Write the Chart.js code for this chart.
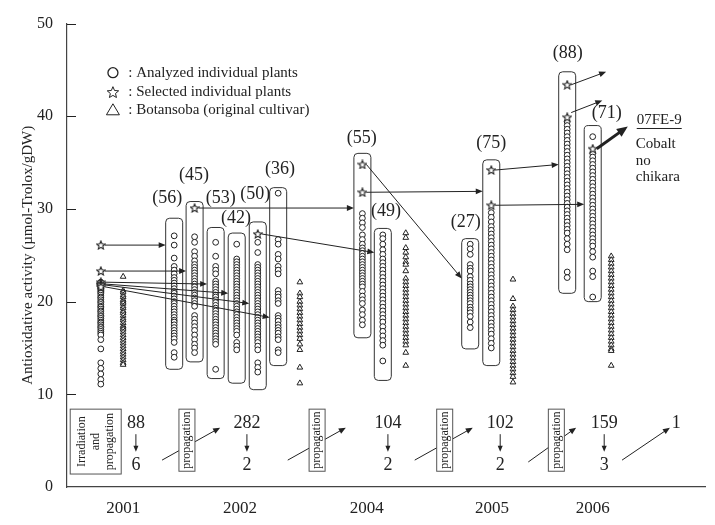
<!DOCTYPE html>
<html>
<head>
<meta charset="utf-8">
<script src="https://cdn.jsdelivr.net/npm/chart.js@4.4.1/dist/chart.umd.min.js"></script>
<style>
  body { margin: 0; background: #fff; }
  canvas { display: block; }
</style>
</head>
<body>
<canvas id="myChart" width="715" height="525"></canvas>
<script>
const years = ["2001", "2002", "2004", "2005", "2006"];
const yearPos = [8.8, 27.1, 47.0, 66.6, 82.4];

// plant groups (one column each), x position on a 0-100 axis
const groupLabels = ["", "(56)", "(45)", "(53)", "(42)", "(50)", "(36)", "(55)", "(49)", "(27)", "(75)", "(88)", "(71)"];
const groupX = [5.3, 16.8, 20.0, 23.3, 26.6, 29.9, 33.1, 46.3, 49.5, 63.2, 66.5, 78.4, 82.4];

const analyzed = [
  [22.1, 22.0, 21.8, 21.7, 21.5, 21.4, 21.2, 21.0, 20.9, 20.7, 20.5, 20.4, 20.2, 20.0, 19.9, 19.7, 19.5, 19.4, 19.2, 19.0, 18.9, 18.7, 18.5, 18.4, 18.2, 18.0, 17.8, 17.7, 17.5, 17.3, 17.2, 17.0, 16.8, 16.6, 16.4, 15.9, 14.9, 13.4, 12.8, 12.2, 11.6, 11.1],
  [27.1, 26.1, 24.7, 23.8, 23.4, 23.0, 22.6, 22.3, 22.0, 21.7, 21.4, 21.1, 20.9, 20.6, 20.3, 20.0, 19.8, 19.5, 19.2, 18.9, 18.6, 18.3, 18.0, 17.8, 17.5, 17.2, 16.9, 16.6, 16.3, 16.0, 15.6, 14.5, 14.0],
  [27.0, 26.4, 25.4, 24.9, 24.4, 24.0, 23.7, 23.4, 23.1, 22.8, 22.5, 22.2, 21.9, 21.6, 21.3, 21.0, 20.7, 20.4, 20.1, 19.8, 19.5, 18.5, 18.1, 17.7, 17.3, 16.9, 16.4, 15.9, 15.4, 15.0, 14.5],
  [26.4, 24.9, 23.8, 23.4, 23.0, 22.2, 21.9, 21.6, 21.3, 21.0, 20.7, 20.5, 20.2, 19.9, 19.6, 19.3, 19.0, 18.7, 18.4, 18.1, 17.8, 17.5, 17.2, 16.9, 16.6, 16.3, 16.0, 15.7, 15.4, 12.7],
  [26.2, 24.6, 24.3, 24.0, 23.7, 23.4, 23.1, 22.8, 22.5, 22.2, 21.9, 21.6, 21.3, 21.0, 20.7, 20.4, 20.1, 19.8, 19.5, 19.2, 18.9, 18.6, 18.3, 18.0, 17.7, 17.4, 17.1, 16.8, 16.4, 15.6, 15.2, 14.8],
  [26.4, 25.3, 24.0, 23.7, 23.4, 23.1, 22.8, 22.5, 22.2, 21.9, 21.6, 21.3, 21.0, 20.7, 20.4, 20.1, 19.8, 19.5, 19.2, 18.9, 18.6, 18.3, 18.0, 17.7, 17.4, 17.1, 16.8, 16.5, 16.2, 15.9, 15.6, 15.2, 14.8, 13.4, 12.9, 12.4],
  [31.7, 26.7, 26.2, 25.1, 24.6, 23.8, 23.4, 23.0, 21.2, 20.8, 20.5, 20.1, 19.8, 18.5, 18.2, 17.9, 17.5, 17.2, 16.9, 16.6, 16.2, 15.9, 14.8, 14.5],
  [29.5, 29.0, 28.5, 28.0, 27.2, 26.7, 26.2, 25.8, 25.5, 25.2, 24.9, 24.6, 24.3, 24.0, 23.7, 23.4, 23.1, 22.8, 22.5, 22.2, 21.9, 21.6, 21.1, 20.6, 20.2, 19.8, 19.1, 18.6, 18.0, 17.5],
  [27.2, 26.8, 26.2, 25.6, 25.1, 24.6, 24.2, 23.8, 23.4, 23.0, 22.6, 22.2, 21.8, 21.4, 21.0, 20.6, 20.2, 19.8, 19.4, 19.0, 18.6, 18.2, 17.8, 17.3, 16.8, 16.3, 15.8, 15.3, 13.6],
  [26.2, 25.7, 25.1, 24.0, 23.6, 23.3, 22.7, 22.3, 21.9, 21.6, 21.3, 21.0, 20.7, 20.4, 20.1, 19.8, 19.4, 19.1, 18.8, 18.4, 17.8, 17.2],
  [29.6, 29.1, 28.6, 28.1, 27.7, 27.3, 26.9, 26.5, 26.1, 25.7, 25.3, 24.9, 24.5, 24.1, 23.7, 23.3, 22.9, 22.5, 22.1, 21.7, 21.3, 20.9, 20.5, 20.1, 19.7, 19.3, 18.9, 18.5, 18.1, 17.7, 17.3, 16.9, 16.5, 16.0, 15.5, 15.0],
  [39.4, 39.0, 38.6, 38.2, 37.8, 37.4, 37.0, 36.6, 36.2, 35.8, 35.4, 35.0, 34.6, 34.2, 33.8, 33.4, 33.0, 32.6, 32.2, 31.8, 31.4, 31.0, 30.6, 30.2, 29.8, 29.4, 29.0, 28.6, 28.2, 27.8, 27.4, 26.8, 26.2, 25.6, 23.2, 22.6],
  [37.8, 36.0, 35.6, 35.2, 34.8, 34.4, 34.0, 33.6, 33.2, 32.8, 32.4, 32.0, 31.6, 31.2, 30.8, 30.4, 30.0, 29.6, 29.2, 28.8, 28.4, 28.0, 27.6, 27.2, 26.8, 26.4, 26.0, 25.4, 24.8, 23.3, 22.7, 20.5]
];

const selected = [
  [26.1, 23.3, 22.1, 21.9, 21.8, 21.6],
  [], [30.1], [], [], [27.3], [],
  [34.8, 31.8], [], [], [34.2, 30.4],
  [43.4, 39.9], [36.5]
];

// framed groups (value range of each rounded box)
const boxTop = [null, 29.0, 30.8, 28.0, 27.4, 28.6, 32.3, 36.0, 27.9, 26.8, 35.3, 44.8, 39.0];
const boxBottom = [null, 12.7, 13.5, 11.7, 11.2, 10.5, 13.1, 16.1, 11.5, 14.9, 13.1, 20.9, 20.0];

// Botansoba (original cultivar)
const origX = [8.8, 36.5, 53.1, 69.9, 85.3];
const botansoba = [
  [22.7, 21.2, 21.0, 20.7, 20.5, 20.2, 20.0, 19.8, 19.5, 19.3, 19.0, 18.8, 18.5, 18.2, 18.0, 17.7, 17.4, 17.2, 17.0, 16.7, 16.4, 16.1, 15.8, 15.5, 15.2, 14.9, 14.6, 14.3, 14.0, 13.7, 13.4, 13.2],
  [22.1, 20.9, 20.5, 20.0, 19.6, 19.2, 18.8, 18.4, 18.0, 17.6, 17.2, 16.8, 16.4, 16.0, 15.4, 14.8, 12.9, 11.2],
  [27.4, 26.9, 25.8, 25.3, 24.8, 24.3, 24.0, 23.3, 22.5, 22.1, 21.7, 21.3, 20.9, 20.5, 20.1, 19.7, 19.3, 18.9, 18.5, 18.1, 17.7, 17.3, 16.9, 16.5, 16.1, 15.7, 15.3, 14.5, 13.1],
  [22.4, 20.3, 19.5, 19.1, 18.7, 18.3, 17.9, 17.5, 17.1, 16.7, 16.3, 15.9, 15.5, 15.1, 14.7, 14.3, 13.9, 13.5, 13.1, 12.7, 12.3, 11.9, 11.3],
  [24.9, 24.5, 24.1, 23.7, 23.3, 22.9, 22.5, 22.1, 21.7, 21.3, 20.9, 20.5, 20.1, 19.7, 19.3, 18.9, 18.5, 18.1, 17.7, 17.3, 16.9, 16.5, 16.1, 15.7, 15.3, 14.9, 14.7, 13.1]
];

// lineage arrows: [group, value] of the selected plant -> [group, value] on the next box
const arrowFrom = [[0, 26.1], [0, 23.3], [0, 22.1], [0, 21.9], [0, 21.8], [0, 21.6], [2, 30.1], [5, 27.3], [7, 34.8], [7, 31.8], [10, 34.2], [10, 30.4]];
const arrowTo = [[1, 26.1], [2, 23.3], [3, 21.9], [4, 20.9], [5, 19.8], [6, 18.3], [7, 30.1], [8, 25.3], [9, 22.5], [10, 31.9], [11, 34.8], [12, 30.5]];
const nextFrom = [[11, 43.4], [11, 40.4], [12, 36.5]];
const nextTo = [[84.5, 44.8], [83.9, 41.7], [87.9, 38.9]];

// count labels above each box
const countX = [null, 15.7, 19.9, 24.1, 26.5, 29.5, 33.4, 46.2, 50.0, 62.5, 66.5, 78.5, 84.6];
const countY = [null, 31.1, 33.6, 31.1, 29.0, 31.6, 34.3, 37.6, 29.7, 28.6, 37.1, 46.8, 40.3];

// selection table under the plot
const analyzedCount = ["88", "282", "104", "102", "159", "1"];
const selectedCount = ["6", "2", "2", "2", "3"];
const tableX = [10.8, 28.2, 50.3, 67.9, 84.2, 95.5];
const stepFrom = [14.9, 34.6, 54.5, 72.3, 87.0];
const stepTo = [24.0, 43.7, 63.6, 79.8, 94.5];
const propagationX = [18.8, 39.2, 59.2, 76.7];

const cultivarName = "07FE-9";
const cultivarNote = ["Cobalt", "no", "chikara"];
const legendText = [": Analyzed individual plants", ": Selected individual plants", ": Botansoba (original cultivar)"];

const ink = "#222";
const serif = "'Liberation Serif', 'Times New Roman', serif";

function starPath(c, x, y, r) {
  c.beginPath();
  for (let i = 0; i < 10; i++) {
    const rr = i % 2 === 0 ? r : r * 0.45;
    const a = -Math.PI / 2 + i * Math.PI / 5;
    const px = x + rr * Math.cos(a), py = y + rr * Math.sin(a);
    if (i === 0) c.moveTo(px, py); else c.lineTo(px, py);
  }
  c.closePath();
}

const starImg = document.createElement("canvas");
starImg.width = 10; starImg.height = 10;
(function () {
  const c = starImg.getContext("2d");
  starPath(c, 5, 5.4, 4.4);
  c.fillStyle = "#fff"; c.fill();
  c.strokeStyle = ink; c.lineWidth = 1.1; c.stroke();
})();

function arrow(c, x1, y1, x2, y2, w, head) {
  const a = Math.atan2(y2 - y1, x2 - x1);
  const ca = Math.cos(a), sa = Math.sin(a);
  c.lineWidth = w;
  c.beginPath();
  c.moveTo(x1, y1);
  c.lineTo(x2 - ca * head * 0.8, y2 - sa * head * 0.8);
  c.stroke();
  c.beginPath();
  c.moveTo(x2, y2);
  c.lineTo(x2 - head * ca + head * 0.42 * sa, y2 - head * sa - head * 0.42 * ca);
  c.lineTo(x2 - head * ca - head * 0.42 * sa, y2 - head * sa + head * 0.42 * ca);
  c.closePath();
  c.fill();
}

function rrect(c, x, y, w, h, r) {
  c.beginPath();
  c.moveTo(x + r, y);
  c.arcTo(x + w, y, x + w, y + h, r);
  c.arcTo(x + w, y + h, x, y + h, r);
  c.arcTo(x, y + h, x, y, r);
  c.arcTo(x, y, x + w, y, r);
  c.closePath();
}

function rotatedBox(c, cx, top, bottom, w, lines) {
  c.fillStyle = "#fff";
  c.fillRect(cx - w / 2, top, w, bottom - top);
  c.strokeStyle = "#555";
  c.lineWidth = 1;
  c.strokeRect(cx - w / 2, top, w, bottom - top);
  c.save();
  c.translate(cx, (top + bottom) / 2);
  c.rotate(-Math.PI / 2);
  c.fillStyle = ink;
  c.font = "12px " + serif;
  c.textAlign = "center";
  c.textBaseline = "middle";
  lines.forEach((t, i) => c.fillText(t, 0, (i - (lines.length - 1) / 2) * 14));
  c.restore();
}

const annotate = {
  id: "annotate",
  beforeDatasetsDraw(chart) {
    const c = chart.ctx, xs = chart.scales.x, ys = chart.scales.y;
    c.save();
    c.strokeStyle = "#333";
    c.lineWidth = 1;
    boxTop.forEach((t, i) => {
      if (t === null) return;
      const x = xs.getPixelForValue(groupX[i]);
      const y1 = ys.getPixelForValue(t), y2 = ys.getPixelForValue(boxBottom[i]);
      rrect(c, x - 8.5, y1, 17, y2 - y1, 4);
      c.stroke();
    });
    c.restore();
  },
  afterDatasetsDraw(chart) {
    const c = chart.ctx, xs = chart.scales.x, ys = chart.scales.y;
    const X = v => xs.getPixelForValue(v), Y = v => ys.getPixelForValue(v);
    const area = chart.chartArea;
    c.save();
    c.strokeStyle = ink; c.fillStyle = ink;

    // inward tick marks on the value axis
    c.lineWidth = 1;
    ys.ticks.forEach(t => {
      if (t.value === 0) return;
      const y = Math.round(Y(t.value)) + 0.5;
      c.beginPath(); c.moveTo(area.left, y); c.lineTo(area.left + 9, y); c.stroke();
    });

    // lineage arrows
    arrowFrom.forEach((f, i) => {
      const t = arrowTo[i];
      arrow(c, X(groupX[f[0]]) + 4, Y(f[1]), X(groupX[t[0]]) - 8.5, Y(t[1]), 1, 7);
    });
    nextFrom.forEach((f, i) => {
      const t = nextTo[i];
      const w = i === 2 ? 3 : 1;
      arrow(c, X(groupX[f[0]]) + 4, Y(f[1]), X(t[0]), Y(t[1]), w, i === 2 ? 11 : 7);
    });

    // counts above boxes
    c.font = "18px " + serif;
    c.textAlign = "center"; c.textBaseline = "middle";
    groupLabels.forEach((l, i) => {
      if (!l) return;
      c.fillText(l, X(countX[i]), Y(countY[i]));
    });

    // cultivar note
    c.font = "15px " + serif;
    c.textAlign = "left";
    const nx = X(89.3), ny = Y(39.6);
    c.fillText(cultivarName, nx, ny);
    const nw = c.measureText(cultivarName).width;
    c.lineWidth = 1;
    c.beginPath(); c.moveTo(nx, ny + 8.5); c.lineTo(nx + nw, ny + 8.5); c.stroke();
    [37.0, 35.2, 33.4].forEach((v, i) => c.fillText(cultivarNote[i], nx - 1, Y(v)));

    // legend
    const lx = X(7.2);
    const rows = [44.7, 42.6, 40.7];
    c.lineWidth = 1.3;
    c.beginPath(); c.arc(lx, Y(rows[0]), 5, 0, Math.PI * 2); c.stroke();
    starPath(c, lx, Y(rows[1]) + 0.5, 6); c.lineWidth = 1; c.stroke();
    const ty = Y(rows[2]);
    c.beginPath(); c.moveTo(lx, ty - 6); c.lineTo(lx + 6.5, ty + 5); c.lineTo(lx - 6.5, ty + 5); c.closePath(); c.stroke();
    c.font = "15px " + serif;
    c.textAlign = "left";
    legendText.forEach((t, i) => c.fillText(t, X(9.6), Y(rows[i])));

    // selection table
    c.lineWidth = 1;
    stepFrom.forEach((f, i) => {
      arrow(c, X(f), Y(i === 3 ? 2.7 : 2.9), X(stepTo[i]), Y(6.4), 1, 7);
    });
    rotatedBox(c, X(4.5), Y(8.4), Y(1.4), 51, ["Irradiation", "and", "propagation"]);
    propagationX.forEach(p => rotatedBox(c, X(p), Y(8.4), Y(1.7), 16, ["propagation"]));
    c.fillStyle = ink; c.strokeStyle = ink;
    c.font = "18px " + serif;
    c.textAlign = "center"; c.textBaseline = "middle";
    analyzedCount.forEach((t, i) => c.fillText(t, X(tableX[i]), Y(6.9)));
    selectedCount.forEach((t, i) => {
      c.fillText(t, X(tableX[i]), Y(2.3));
      arrow(c, X(tableX[i]), Y(5.7), X(tableX[i]), Y(3.8), 1, 6);
    });
    c.restore();
  }
};

const circlePoints = analyzed.flatMap((vals, i) => vals.map(v => ({ x: groupX[i], y: v })));
const starPoints = selected.flatMap((vals, i) => vals.map(v => ({ x: groupX[i], y: v })));
const trianglePoints = botansoba.flatMap((vals, i) => vals.map(v => ({ x: origX[i], y: v })));

Chart.defaults.font.family = serif;
Chart.defaults.color = ink;

const ctx = document.getElementById("myChart").getContext("2d");
const myChart = new Chart(ctx, {
  type: "scatter",
  data: {
    datasets: [
      {
        label: "Selected individual plants",
        data: starPoints,
        pointStyle: starImg,
      },
      {
        label: "Analyzed individual plants",
        data: circlePoints,
        pointStyle: "circle",
        pointRadius: 2.9,
        pointBorderWidth: 1,
        pointBackgroundColor: "#fff",
        pointBorderColor: ink,
      },
      {
        label: "Botansoba (original cultivar)",
        data: trianglePoints,
        pointStyle: "triangle",
        pointRadius: 3.3,
        pointBorderWidth: 1,
        pointBackgroundColor: "#fff",
        pointBorderColor: ink,
      },
    ],
  },
  options: {
    responsive: false,
    devicePixelRatio: 1,
    animation: false,
    events: [],
    layout: { padding: { top: 15, right: 10, bottom: 0, left: 0 } },
    plugins: { legend: { display: false }, tooltip: { enabled: false } },
    scales: {
      x: {
        type: "linear",
        min: 0,
        max: 100,
        grid: { display: false, drawTicks: false },
        border: { display: true, color: "#444", width: 1.2 },
        afterBuildTicks: (scale) => {
          scale.ticks = yearPos.map(v => ({ value: v }));
        },
        afterFit: (scale) => { scale.height = 38; },
        ticks: {
          autoSkip: false,
          maxRotation: 0,
          padding: 11,
          font: { size: 17 },
          callback: (v) => {
            const i = yearPos.findIndex(p => Math.abs(p - v) < 1e-6);
            return i >= 0 ? years[i] : "";
          },
        },
      },
      y: {
        min: 0,
        max: 50,
        grid: { display: false, drawTicks: false },
        border: { display: true, color: "#444", width: 1.2 },
        afterFit: (scale) => { scale.width = 67; },
        ticks: { stepSize: 10, padding: 14, font: { size: 16 } },
        title: {
          display: true,
          text: "Antioxidative activity (µmol-Trolox/gDW)",
          font: { size: 15 },
          padding: { top: 19, bottom: 0 },
        },
      },
    },
  },
  plugins: [annotate],
});
</script>
</body>
</html>
